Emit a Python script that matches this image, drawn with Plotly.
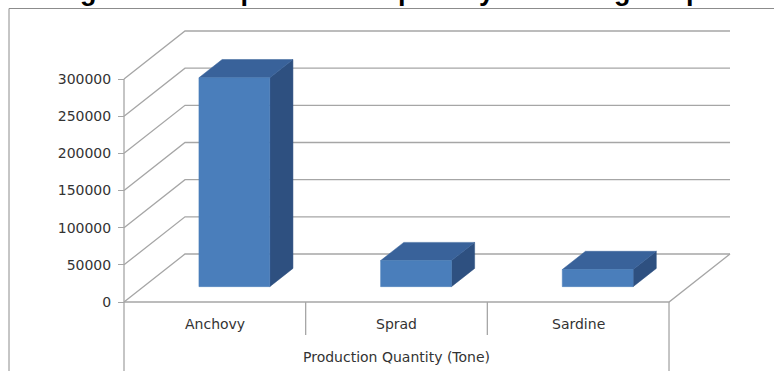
import plotly.graph_objects as go

# ---------------- data ----------------
categories = ["Anchovy", "Sprad", "Sardine"]
production = [281000, 35000, 23000]
y_ticks = [0, 50000, 100000, 150000, 200000, 250000, 300000]
axis_title = "Production Quantity (Tone)"
chart_title = "Figure 3: Fish production quantity according to species"

# ---------------- geometry / style ----------------
W, H = 774, 371
PX_PER_CAT = 181.67          # horizontal pixels per category on the front plane
FRONT_LEFT_PX = 124          # pixel x of category edge -0.5
ZERO_PY = 302                # pixel y of value 0 on the front plane
PX_PER_VAL = 223 / 300000    # vertical pixels per value unit
DX = 61 / PX_PER_CAT         # depth offset (x, category units)
DY = 48 / PX_PER_VAL         # depth offset (y, value units)
F0, F1 = 0.32, 0.70          # bar front / back depth fraction
HALF_W = 0.195               # half bar width (category units)
YMAX = y_ticks[-1]

x_range = [-0.5 - FRONT_LEFT_PX / PX_PER_CAT, -0.5 + (W - FRONT_LEFT_PX) / PX_PER_CAT]
y_range = [-(H - ZERO_PY) / PX_PER_VAL, ZERO_PY / PX_PER_VAL]

GRID = "#A6A6A6"
TXT = "#333333"
FRONT_C = "#4A7EBB"
TOP_C = "#39629A"
SIDE_C = "#2E5080"
FONT = "DejaVu Sans"

n = len(categories)
left, right = -0.5, n - 0.5

fig = go.Figure()

def poly(xs, ys, fill, line=None, width=0):
    fig.add_trace(go.Scatter(
        x=xs, y=ys, mode="lines", fill="toself" if fill else None,
        fillcolor=fill, line=dict(color=line or fill or GRID, width=width),
        hoverinfo="skip", showlegend=False))

# gridlines: side wall diagonal + back wall horizontal
for t in y_ticks:
    poly([left, left + DX, right + DX], [t, t + DY, t + DY], None, GRID, 1.3)

# floor front and right diagonal
poly([left, right, right + DX], [0, 0, DY], None, GRID, 1.3)

# vertical axis line (left) and category table lines
poly([left, left], [YMAX, y_range[0]], None, GRID, 1.3)
poly([right, right], [0, y_range[0]], None, GRID, 1.3)
table_bottom = -(335 - ZERO_PY) / PX_PER_VAL
for k in range(1, n):
    poly([left + k, left + k], [0, table_bottom], None, GRID, 1.3)

# 3D bars
for i, v in enumerate(production):
    x0 = i - HALF_W + F0 * DX
    x1 = i + HALF_W + F0 * DX
    y0 = F0 * DY
    y1 = v + F0 * DY
    ddx = (F1 - F0) * DX
    ddy = (F1 - F0) * DY
    # side
    poly([x1, x1 + ddx, x1 + ddx, x1, x1], [y0, y0 + ddy, y1 + ddy, y1, y0], SIDE_C, SIDE_C, 0.5)
    # top
    poly([x0, x1, x1 + ddx, x0 + ddx, x0], [y1, y1, y1 + ddy, y1 + ddy, y1], TOP_C, TOP_C, 0.5)
    # front
    poly([x0, x1, x1, x0, x0], [y0, y0, y1, y1, y0], FRONT_C, FRONT_C, 0.5)

annotations = []
for i, c in enumerate(categories):
    annotations.append(dict(x=i, y=-(324 - ZERO_PY) / PX_PER_VAL, xref="x", yref="y",
                            text=c, showarrow=False, font=dict(family=FONT, size=14, color=TXT)))
annotations.append(dict(x=(n - 1) / 2, y=-(357 - ZERO_PY) / PX_PER_VAL, xref="x", yref="y",
                        text=axis_title, showarrow=False,
                        font=dict(family=FONT, size=14, color=TXT)))
annotations.append(dict(x=413 / W, y=1 - 7.5 / H, xref="paper", yref="paper",
                        xanchor="center", yanchor="bottom", borderpad=0,
                        text="<b>" + chart_title + "</b>", showarrow=False,
                        font=dict(family="Liberation Sans", size=27, color="#000000")))

fig.update_layout(
    width=W, height=H,
    margin=dict(l=0, r=0, t=0, b=0),
    paper_bgcolor="white", plot_bgcolor="white",
    showlegend=False,
    xaxis=dict(range=x_range, visible=False, domain=[0, 1], fixedrange=True),
    yaxis=dict(range=y_range, domain=[0, 1], anchor="free", position=FRONT_LEFT_PX / W,
               tickmode="array", tickvals=y_ticks, ticktext=[str(t) for t in y_ticks],
               ticks="outside", ticklen=6, tickcolor=GRID, tickwidth=1.3,
               ticklabelstandoff=4,
               showgrid=False, zeroline=False, showline=False,
               tickfont=dict(family=FONT, size=14, color=TXT), fixedrange=True),
    annotations=annotations,
    shapes=[dict(type="rect", xref="paper", yref="paper",
                 x0=9 / W, x1=1.02, y0=-0.02, y1=1 - 8.5 / H,
                 line=dict(color="#8C8C8C", width=1), fillcolor="rgba(0,0,0,0)", layer="below")],
)

fig.write_html("out.html")
